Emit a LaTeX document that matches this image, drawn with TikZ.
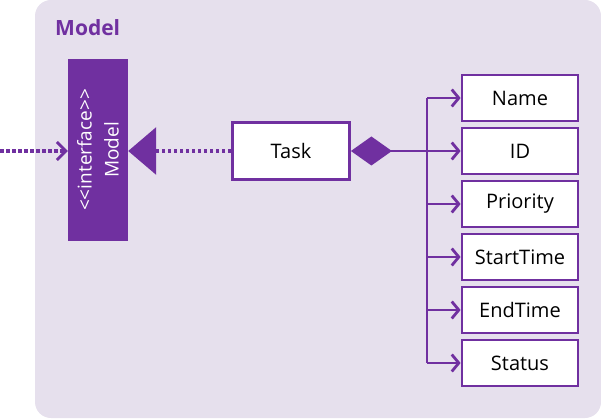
\documentclass[tikz,border=0pt]{standalone}
\usepackage{fontspec}
\setmainfont{Open Sans}
\usetikzlibrary{calc}
\usetikzlibrary{arrows.meta}
\definecolor{umlpurple}{RGB}{112,48,160}
\definecolor{umlback}{RGB}{230,224,237}

\begin{document}
\begin{tikzpicture} [x=1pt, y=1pt,
  attrbox/.style={draw=umlpurple, line width=2.8pt, fill=white, minimum width=116pt, minimum height=46pt, inner sep=0pt, font=\fontsize{20}{22}\selectfont},
  link/.style={umlpurple, line width=2.8pt},
  dep/.style={umlpurple, line width=3.2pt, dash pattern=on 3.5pt off 2.5pt}]
\useasboundingbox (0,0) rectangle (601,418);
\fill[umlback, rounded corners=16pt] (35,0) rectangle (601,418);
\node[anchor=west, font=\bfseries\fontsize{21}{24}\selectfont, text=umlpurple, inner sep=0pt] (title) at (55,390) {Model};

\node[fill=umlpurple, minimum width=60pt, minimum height=182pt, inner sep=0pt] (model) at (98,268) {};
\node[rotate=90, text=white, align=center, font=\fontsize{19}{27}\selectfont] (modeltext) at (model.center) {{<}{<}interface{>}{>}\\Model};
\coordinate (user) at (0,267);
\draw[dep, -{Straight Barb[length=9pt, width=18pt, line width=2.8pt]}] (user) -- (user -| model.west);

\node[attrbox, minimum width=117pt, minimum height=57pt] (task) at (291,267) {Task};
\draw[dep, -{Triangle[length=28pt, width=47pt]}] (task.west) -- (task.west -| model.east);

\foreach \name [count=\i] in {Name, ID, Priority, StartTime, EndTime, Status}
  \node[attrbox] (attr\i) at (520,{320-53*(\i-1)}) {\name};

\coordinate (trunk) at (427,267);
\draw[link, {Diamond[length=41pt, width=29pt]}-] (task.east) -- (trunk);
\draw[link] (trunk |- attr1.west) -- (trunk |- attr6.west);
\foreach \i in {1,...,6}
  \draw[link, -{Straight Barb[length=7pt, width=17pt]}] (trunk |- attr\i.west) -- (attr\i.west);

\end{tikzpicture}
\end{document}
